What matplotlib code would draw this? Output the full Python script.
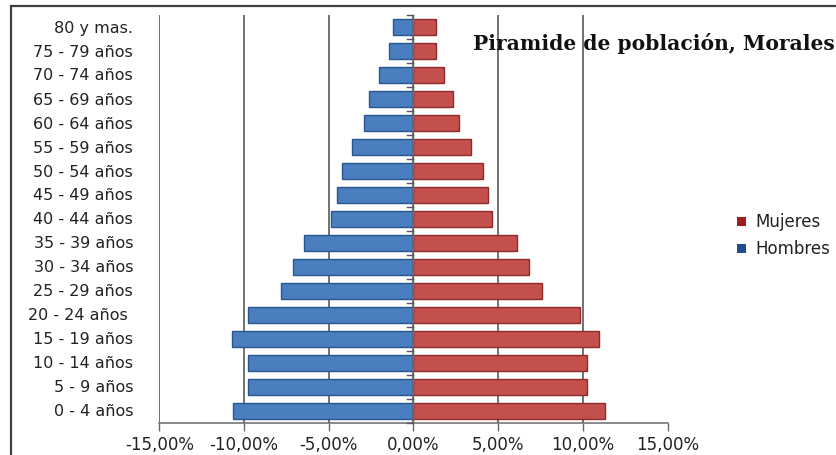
import matplotlib
matplotlib.use("Agg")
import matplotlib.pyplot as plt
from matplotlib.patches import Rectangle
from matplotlib.ticker import FuncFormatter, FixedLocator
import numpy as np

categories = ["0 - 4 años", "5 - 9 años", "10 - 14 años", "15 - 19 años", "20 - 24 años ",
              "25 - 29 años", "30 - 34 años", "35 - 39 años", "40 - 44 años", "45 - 49 años",
              "50 - 54 años", "55 - 59 años", "60 - 64 años", "65 - 69 años", "70 - 74 años",
              "75 - 79 años", "80 y mas."]
hombres = [10.63, 9.75, 9.75, 10.73, 9.75, 7.81, 7.12, 6.43, 4.85, 4.52,
           4.22, 3.63, 2.94, 2.64, 2.03, 1.44, 1.20]
mujeres = [11.34, 10.22, 10.22, 10.93, 9.82, 7.62, 6.83, 6.12, 4.63, 4.43,
           4.12, 3.41, 2.72, 2.32, 1.81, 1.34, 1.34]
xticks = [-15, -10, -5, 0, 5, 10, 15]
title = "Piramide de población, Morales"

W, H = 837, 456
fig = plt.figure(figsize=(W / 100, H / 100), dpi=100)
fig.patch.set_facecolor("white")

# outer frame (cropped at right/bottom)
fig.patches.append(Rectangle((11 / W, -0.1), 1.2, 1 - 7 / H + 0.1, transform=fig.transFigure,
                             fill=False, edgecolor="#404040", linewidth=1.6))

left, right, top, bottom = 159.3 / W, 667.5 / W, 1 - 16 / H, 1 - 424 / H
ax = fig.add_axes([left, bottom, right - left, top - bottom])

y = np.arange(len(categories))
bh = 0.66
ax.barh(y, [-v for v in hombres], height=bh, color="#4a7ebf", edgecolor="#2a5690",
        linewidth=1.0, label="Hombres", zorder=3)
ax.barh(y, mujeres, height=bh, color="#c4504e", edgecolor="#8e2b29",
        linewidth=1.0, label="Mujeres", zorder=3)

ax.set_xlim(-15, 15)
ax.set_ylim(-0.5, len(categories) - 0.5)
ax.xaxis.set_major_locator(FixedLocator(xticks))
ax.xaxis.set_major_formatter(FuncFormatter(lambda v, p: f"{v:.2f}%".replace(".", ",")))
ax.grid(axis="x", color="#4a4a4a", linewidth=1.1, zorder=0)
ax.set_axisbelow(True)

for s in ["top", "right", "left"]:
    ax.spines[s].set_visible(False)
ax.spines["bottom"].set_color("#6a6a6a")
ax.spines["bottom"].set_linewidth(1.1)

ax.tick_params(axis="x", length=6, width=1, color="#6a6a6a", labelsize=12, pad=3,
               labelcolor="#222222")
ax.set_yticks([])
# category labels
for yi, c in zip(y, categories):
    fig.text(133 / W, ax.transData.transform((0, yi))[1] / H, c, ha="right", va="center",
             fontsize=11.5, color="#222222")

# y axis line at zero with tick marks between categories
ax.axvline(0, color="#6a6a6a", linewidth=1.0, zorder=4)
for b in np.arange(-0.5, len(categories), 1.0):
    ax.plot([-0.35, 0], [b, b], color="#555555", linewidth=1.0, zorder=4, clip_on=False)

fig.text(473 / W, 1 - 43 / H, title, ha="left", va="center", fontsize=14.6,
         fontweight="bold", family="DejaVu Serif", color="#111111")

# legend
fig.patches.append(Rectangle((737 / W, 1 - 227 / H), 9 / W, 9 / H, transform=fig.transFigure,
                             facecolor="#9a1f1f", edgecolor="none"))
fig.text(755 / W, 1 - 222 / H, "Mujeres", ha="left", va="center", fontsize=12, color="#222222")
fig.patches.append(Rectangle((737 / W, 1 - 254 / H), 9 / W, 9 / H, transform=fig.transFigure,
                             facecolor="#1f4e8e", edgecolor="none"))
fig.text(755 / W, 1 - 249 / H, "Hombres", ha="left", va="center", fontsize=12, color="#222222")

fig.savefig("out.png", dpi=100)
